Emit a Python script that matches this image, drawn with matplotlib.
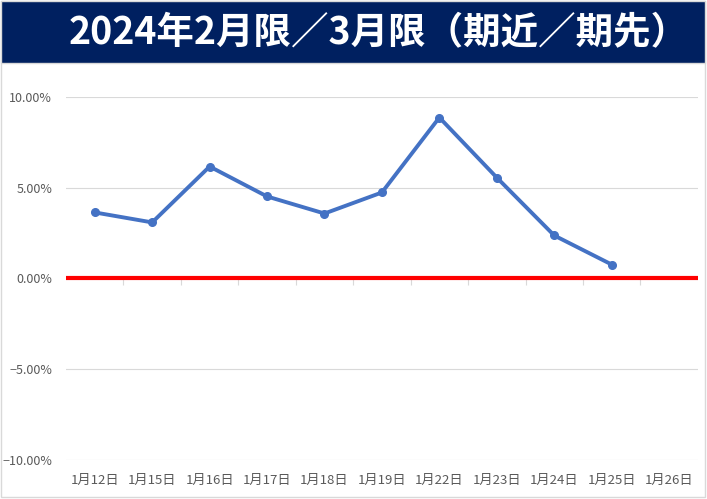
import matplotlib.pyplot as plt
from matplotlib.patches import Rectangle
from matplotlib.ticker import FixedLocator, PercentFormatter

plt.rcParams['font.family'] = ['Noto Sans CJK JP', 'DejaVu Sans']

title = "2024年2月限／3月限（期近／期先）"
dates = ["1月12日", "1月15日", "1月16日", "1月17日", "1月18日", "1月19日",
         "1月22日", "1月23日", "1月24日", "1月25日", "1月26日"]
# spread in percent, 1月26日 has no value yet
spread = [3.64, 3.09, 6.17, 4.52, 3.58, 4.74, 8.87, 5.56, 2.37, 0.77]
y_ticks = [-10, -5, 0, 5, 10]


def main():
    fig = plt.figure(figsize=(7.07, 4.99), dpi=100)

    # chart border and title banner
    fig.patches.append(Rectangle((0.001, 0.004), 0.996, 0.994, transform=fig.transFigure,
                                 facecolor="none", edgecolor="#d9d9d9", lw=1, zorder=5))
    fig.patches.append(Rectangle((0.001, 0.874), 0.996, 0.124, transform=fig.transFigure,
                                 facecolor="#002060", edgecolor="#d9d9d9", lw=1, zorder=5))
    fig.text(0.535, 0.935, title, color="white", fontsize=27, fontweight="bold",
             ha="center", va="center", zorder=6)

    ax = fig.add_axes([0.0934, 0.0782, 0.8936, 0.7274])
    x = list(range(len(dates)))
    ax.plot(x[:len(spread)], spread, color="#4472C4", lw=2.8, marker="o", ms=5.5, zorder=3)
    ax.axhline(0, color="#ff0000", lw=3, zorder=2)

    ax.set_xlim(-0.5, len(dates) - 0.5)
    ax.set_ylim(-10, 10)
    ax.set_yticks(y_ticks)
    ax.yaxis.set_major_formatter(PercentFormatter(decimals=2))
    ax.set_xticks(x)
    ax.set_xticklabels(dates)
    ax.grid(axis="y", color="#d9d9d9", lw=0.8)
    ax.set_axisbelow(True)
    for s in ax.spines.values():
        s.set_visible(False)
    ax.tick_params(axis="both", length=0, labelcolor="#595959")
    ax.tick_params(axis="x", pad=10, labelsize=9.5)
    ax.tick_params(axis="y", pad=10, labelsize=9)

    # category tick marks on the zero line
    sec = ax.secondary_xaxis(0.5)
    sec.spines["bottom"].set_visible(False)
    sec.spines["top"].set_visible(False)
    sec.xaxis.set_major_locator(FixedLocator([i - 0.5 for i in range(1, len(dates))]))
    sec.xaxis.set_ticks_position("bottom")
    sec.tick_params(axis="x", length=5, color="#d9d9d9", direction="out",
                    labelbottom=False, labeltop=False)

    fig.savefig("out.png", dpi=100)
    plt.close(fig)


if __name__ == "__main__":
    main()
